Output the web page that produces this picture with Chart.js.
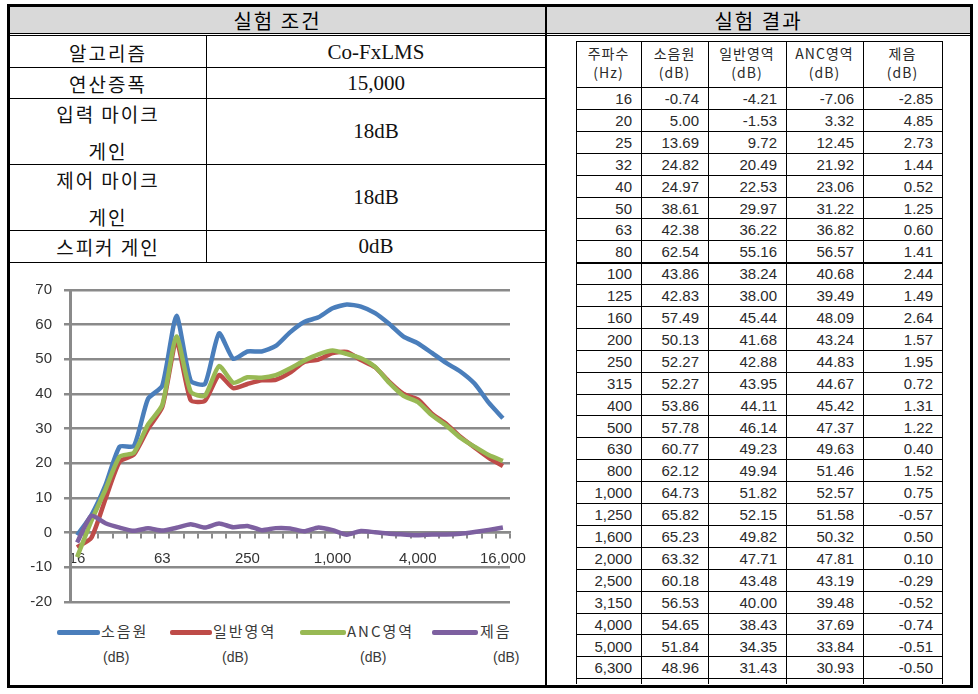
<!DOCTYPE html>
<html><head><meta charset="utf-8">
<script src="https://cdn.jsdelivr.net/npm/chart.js@4.4.1/dist/chart.umd.min.js"></script>
<style>
html,body{margin:0;padding:0;background:#fff;}
body{width:978px;height:694px;position:relative;overflow:hidden;font-family:'Noto Sans CJK KR','Liberation Sans',sans-serif;color:#000;}
.ab{position:absolute;}
.cell{position:absolute;display:flex;align-items:center;justify-content:center;text-align:center;white-space:nowrap;}
.ser{font-family:'Liberation Serif','Noto Sans CJK KR',serif;}
.kor{font-family:'Noto Sans CJK KR',sans-serif;}
.num{position:absolute;text-align:right;white-space:nowrap;font-family:'Liberation Sans',sans-serif;font-size:15px;color:#2a2a2a;}
.lg{position:absolute;white-space:nowrap;color:#3a3a3a;line-height:1;}
</style></head><body>
<div id="page"></div>
<canvas id="c" width="535" height="423" style="position:absolute;left:10px;top:262px;"></canvas>
<div class="ab" style="left:7px;top:4px;width:966px;height:684px;box-sizing:border-box;border:3px solid #000;"></div>
<script>
// ---------- data ----------
const freqLabels = ['16','20','25','32','40','50','63','80','100','125','160','200','250','315','400','500','630','800','1,000','1,250','1,600','2,000','2,500','3,150','4,000','5,000','6,300','8,000','10,000','12,500','16,000'];
const xTickLabels = ['16','63','250','1,000','4,000','16,000'];
const sourceDb    = [-0.74,5.00,13.69,24.82,24.97,38.61,42.38,62.54,43.86,42.83,57.49,50.13,52.27,52.27,53.86,57.78,60.77,62.12,64.73,65.82,65.23,63.32,60.18,56.53,54.65,51.84,48.96,46.5,43.0,37.5,33.0];
const normalDb    = [-4.21,-1.53,9.72,20.49,22.53,29.97,36.22,55.16,38.24,38.00,45.44,41.68,42.88,43.95,44.11,46.14,49.23,49.94,51.82,52.15,49.82,47.71,43.48,40.00,38.43,34.35,31.43,27.7,24.6,21.6,19.2];
const ancDb       = [-7.06,3.32,12.45,21.92,23.06,31.22,36.82,56.57,40.68,39.49,48.09,43.24,44.83,44.67,45.42,47.37,49.63,51.46,52.57,51.58,50.32,47.81,43.19,39.48,37.69,33.84,30.93,27.4,24.8,22.4,20.7];
const reductionDb = [-2.85,4.85,2.73,1.44,0.52,1.25,0.60,1.41,2.44,1.49,2.64,1.57,1.95,0.72,1.31,1.22,0.40,1.52,0.75,-0.57,0.50,0.10,-0.29,-0.52,-0.74,-0.51,-0.50,-0.3,0.2,0.8,1.5];
const seriesNames = ['소음원','일반영역','ANC영역','제음'];
const conditionLabels = [['알고리즘'],['연산증폭'],['입력 마이크','게인'],['제어 마이크','게인'],['스피커 게인']];
const conditionValues = ['Co-FxLMS','15,000','18dB','18dB','0dB'];
const tableHeaders = [['주파수','(Hz)'],['소음원','(dB)'],['일반영역','(dB)'],['ANC영역','(dB)'],['제음','(dB)']];
const yTickValues = [-20,-10,0,10,20,30,40,50,60,70];

// ---------- page builder ----------
const page = document.getElementById('page');
function el(tag, cls, style, html){const e=document.createElement(tag); if(cls) e.className=cls; e.style.cssText=style; if(html!==undefined) e.innerHTML=html; page.appendChild(e); return e;}
function box(x,y,w,h,bg){return el('div','ab',`left:${x}px;top:${y}px;width:${w}px;height:${h}px;background:${bg};`);}
function cell(x1,y1,x2,y2,html,extra){return el('div','cell',`left:${x1}px;top:${y1}px;width:${x2-x1}px;height:${y2-y1}px;${extra||''}`,html);}

// header band
box(10,7,960,26,'#d9d9d9');
box(10,33,960,1,'#000');
box(10,35,960,1,'#000');
cell(10,7,545,33,'실험 조건','font-size:20px;letter-spacing:2px;');
cell(547,7,970,33,'실험 결과','font-size:20px;letter-spacing:2px;');
// panel divider
box(545,7,2,678,'#000');

// left condition table
const rowLines = [36,67,98,164,230,262];
for(let i=1;i<rowLines.length;i++) box(10,rowLines[i],535,1,'#000');
box(206,36,1,226,'#000');
conditionLabels.forEach((lab,i)=>{
  const y1=rowLines[i]+1, y2=rowLines[i+1];
  cell(10,y1,206,y2,lab.join('<br>'),'font-size:19px;letter-spacing:2px;line-height:37px;color:#111;');
  cell(207,y1,545,y2,conditionValues[i],'font-size:21px;color:#111;font-family:"Liberation Serif",serif;');
});

// right result table (clipped)
const tb = el('div','ab','left:576px;top:41px;width:367px;height:643px;overflow:hidden;');
const colX=[0,65,132,210,287,366];
const headH=46, rowH=21.9;
function tbox(x,y,w,h,bg){const e=document.createElement('div');e.className='ab';e.style.cssText=`left:${x}px;top:${y}px;width:${w}px;height:${h}px;background:${bg};`;tb.appendChild(e);return e;}
function ttext(x,y,w,h,html,css){const e=document.createElement('div');e.style.cssText=`position:absolute;left:${x}px;top:${y}px;width:${w}px;height:${h}px;${css}`;e.innerHTML=html;tb.appendChild(e);return e;}
colX.forEach(x=>tbox(x,0,1,643,'#000'));
tbox(0,0,367,1,'#000');
tbox(0,headH,367,1,'#000');
tableHeaders.forEach((h,c)=>{
  ttext(colX[c],3,colX[c+1]-colX[c],headH-3,h[0]+'<br>'+h[1],'text-align:center;font-size:14px;line-height:19px;color:#2a2a2a;letter-spacing:1px;font-family:"Noto Sans CJK KR",sans-serif;');
});
const nRows = 28;
for(let i=0;i<nRows;i++){
  const y = headH + i*rowH;
  tbox(0,Math.round(y+rowH),367,i===7?2:1,'#000');
  const vals=[freqLabels[i], sourceDb[i].toFixed(2), normalDb[i].toFixed(2), ancDb[i].toFixed(2), reductionDb[i].toFixed(2)];
  vals.forEach((v,c)=>{
    const e=document.createElement('div');
    e.className='num';
    e.style.cssText+=`left:${colX[c]}px;top:${y+1}px;width:${colX[c+1]-colX[c]-9}px;height:${rowH}px;line-height:${rowH}px;`;
    e.textContent=v;
    tb.appendChild(e);
  });
}

// legend (HTML)
const legendColors=['#4A7EBB','#BE4B48','#98B954','#7D60A0'];
const legendLine=[[57,100],[170,212],[300,346],[432,478]];
const legendText=[[101,103],[213,222],[347,360],[480,493]];
seriesNames.forEach((n,i)=>{
  el('div','ab',`left:${legendLine[i][0]}px;top:630px;width:${legendLine[i][1]-legendLine[i][0]}px;height:5px;background:${legendColors[i]};border-radius:2px;`);
  el('div','lg',`left:${legendText[i][0]}px;top:623px;font-size:15px;letter-spacing:2px;font-family:"Noto Sans CJK KR",sans-serif;`,n);
  el('div','lg',`left:${legendText[i][1]}px;top:650px;font-size:14px;font-family:"Liberation Sans",sans-serif;`,'(dB)');
});

// ---------- chart ----------
const gridCol='#8a8a8a';
Chart.defaults.font.family="'Liberation Sans','Noto Sans CJK KR',sans-serif";
const seriesData=[sourceDb,normalDb,ancDb,reductionDb];
new Chart(document.getElementById('c'),{
  type:'line',
  data:{
    labels:freqLabels,
    datasets:seriesData.map((d,i)=>({label:seriesNames[i]+' (dB)',data:d,borderColor:legendColors[i],backgroundColor:legendColors[i],borderWidth:4.5,pointRadius:0,tension:0.2,fill:false,order:4-i}))
  },
  options:{
    responsive:false,animation:false,devicePixelRatio:1,
    layout:{padding:{top:28,right:35,bottom:83,left:0}},
    plugins:{legend:{display:false},tooltip:{enabled:false}},
    scales:{
      x:{
        position:{y:0},offset:true,
        grid:{display:true,drawOnChartArea:false,drawTicks:true,tickLength:5,color:gridCol,lineWidth:2,offset:true},
        border:{display:true,color:gridCol,width:2.5},
        ticks:{autoSkip:false,maxRotation:0,minRotation:0,padding:12,color:'#333',font:{size:15},
          callback:(v,i)=>xTickLabels.includes(freqLabels[i])?freqLabels[i]:''}
      },
      y:{
        min:-20,max:70,
        afterFit:s=>{s.width=60;},
        afterBuildTicks:s=>{s.ticks=yTickValues.map(v=>({value:v}));},
        grid:{color:gridCol,lineWidth:2.5,tickLength:6},
        border:{display:true,color:gridCol,width:3},
        ticks:{padding:12,color:'#333',font:{size:15}}
      }
    }
  }
});
</script>
</body></html>
